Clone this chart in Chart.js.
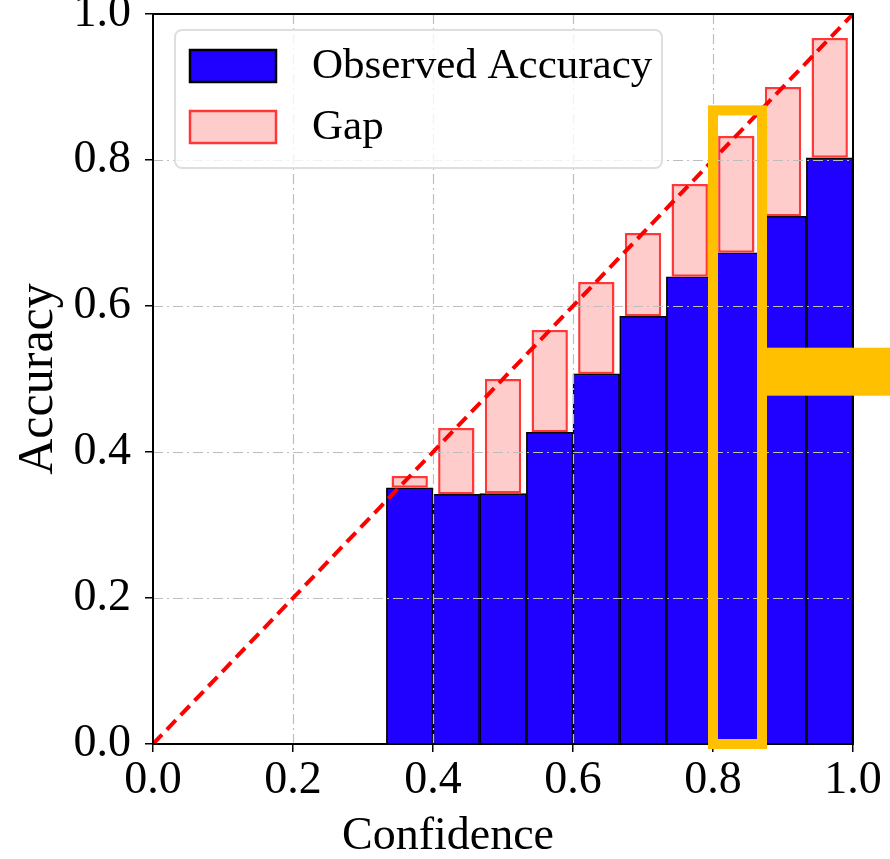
<!DOCTYPE html>
<html>
<head>
<meta charset="utf-8">
<script src="https://cdn.jsdelivr.net/npm/chart.js@4.4.1/dist/chart.umd.min.js"></script>
<style>
  html, body { margin: 0; padding: 0; background: #fff; overflow: hidden; }
  #wrap { position: relative; width: 890px; height: 859px; }
</style>
</head>
<body>
<div id="wrap"><canvas id="calib" width="890" height="859"></canvas></div>
<script>
// 15 equal-width confidence bins on [0, 1]
const binCenters = [0.0333, 0.1, 0.1667, 0.2333, 0.3, 0.3667, 0.4333, 0.5, 0.5667, 0.6333, 0.7, 0.7667, 0.8333, 0.9, 0.9667];
const accuracy   = [0, 0, 0, 0, 0, 0.351, 0.342, 0.343, 0.427, 0.507, 0.586, 0.640, 0.673, 0.723, 0.803];
const confidence = [0, 0, 0, 0, 0, 0.367, 0.433, 0.500, 0.567, 0.633, 0.700, 0.767, 0.833, 0.900, 0.967];
const diagonal   = [0, 1];
const tickValues = [0, 0.2, 0.4, 0.6, 0.8, 1.0];
const legendLabels = ['Observed Accuracy', 'Gap'];
const xTitle = 'Confidence';
// highlighted bin: x from, x to, top ; and where the connector leaves it
const highlightBox = [0.8, 0.87, 0.868];
const connectorY = 0.51;

const BLUE = 'rgb(32,0,255)';
const PINK = 'rgb(255,204,204)';
const RED_EDGE = 'rgb(255,55,55)';
const ORANGE = '#FFC000';
const GRID = '#bdbdbd';
const SERIF = '"Liberation Serif", "Times New Roman", serif';

Chart.defaults.font.family = SERIF;
Chart.defaults.color = '#000';

// grid goes over the bars but under the diagonal (like matplotlib)
const gridOverBars = {
    id: 'gridOverBars',
    afterDatasetDraw(chart, args) {
        if (args.index !== 1) return;
        const {ctx, chartArea: a, scales: {x, y}} = chart;
        ctx.save();
        ctx.strokeStyle = GRID;
        ctx.lineWidth = 1.2;
        ctx.setLineDash([10, 4, 2, 4]);
        ctx.beginPath();
        tickValues.slice(1, -1).forEach(v => {
            const px = Math.round(x.getPixelForValue(v)) + 0.5;
            const py = Math.round(y.getPixelForValue(v)) + 0.5;
            ctx.moveTo(px, a.top); ctx.lineTo(px, a.bottom);
            ctx.moveTo(a.left, py); ctx.lineTo(a.right, py);
        });
        ctx.stroke();
        ctx.restore();
    }
};

// axes box, legend inside the plot, x title, orange highlight
const frameAndLegend = {
    id: 'frameAndLegend',
    afterDraw(chart) {
        const {ctx, chartArea: a, scales: {x, y}} = chart;
        ctx.save();
        ctx.strokeStyle = '#000';
        ctx.lineWidth = 2;
        ctx.strokeRect(a.left, a.top, a.right - a.left, a.bottom - a.top);

        // x title sits a bit left of the axis centre in the original
        ctx.font = '46px ' + SERIF;
        ctx.fillStyle = '#000';
        ctx.textAlign = 'center';
        ctx.textBaseline = 'middle';
        ctx.fillText(xTitle, (a.left + a.right) / 2 - 55, chart.height - 22);

        // legend
        const lx = a.left + 22, ly = a.top + 16;
        ctx.beginPath();
        ctx.roundRect(lx, ly, 487, 138, 7);
        ctx.fillStyle = 'rgba(255,255,255,0.8)';
        ctx.fill();
        ctx.strokeStyle = '#dedede';
        ctx.lineWidth = 2;
        ctx.stroke();

        const swatches = [[BLUE, '#000'], [PINK, RED_EDGE]];
        ctx.font = '43px ' + SERIF;
        ctx.textAlign = 'left';
        legendLabels.forEach((label, i) => {
            const sy = ly + 20 + i * 61;
            ctx.fillStyle = swatches[i][0];
            ctx.fillRect(lx + 15, sy, 86, 32);
            ctx.strokeStyle = swatches[i][1];
            ctx.lineWidth = 2.5;
            ctx.strokeRect(lx + 15, sy, 86, 32);
            ctx.fillStyle = '#000';
            ctx.fillText(label, lx + 137, sy + 17);
        });

        // highlight around one bin + connector to the right edge
        const hx0 = x.getPixelForValue(highlightBox[0]);
        const hx1 = x.getPixelForValue(highlightBox[1]);
        const hyB = y.getPixelForValue(0);
        const hyT = y.getPixelForValue(highlightBox[2]);
        ctx.strokeStyle = ORANGE;
        ctx.lineWidth = 10;
        ctx.strokeRect(hx0, hyT, hx1 - hx0, hyB - hyT);
        const cy = y.getPixelForValue(connectorY);
        ctx.fillStyle = ORANGE;
        ctx.fillRect(hx1, cy - 24, chart.width - hx1, 48);
        ctx.restore();
    }
};

new Chart(document.getElementById('calib'), {
    type: 'bar',
    data: {
        datasets: [{
            type: 'line',
            label: 'Perfect calibration',
            data: diagonal.map(v => ({x: v, y: v})),
            borderColor: '#ff0000',
            borderWidth: 4,
            borderDash: [13, 7],
            pointRadius: 0,
            fill: false,
            order: 0
        }, {
            label: legendLabels[1],
            data: binCenters.map((c, i) => ({x: c, y: [accuracy[i], confidence[i]]})),
            backgroundColor: PINK,
            borderColor: RED_EDGE,
            borderWidth: 2.5,
            borderSkipped: false,
            barPercentage: 0.78,
            categoryPercentage: 1,
            grouped: false,
            order: 1
        }, {
            label: legendLabels[0],
            data: binCenters.map((c, i) => ({x: c, y: accuracy[i]})),
            backgroundColor: BLUE,
            borderColor: '#000',
            borderWidth: 1.6,
            barPercentage: 1,
            categoryPercentage: 1,
            grouped: false,
            order: 2
        }]
    },
    options: {
        responsive: false,
        animation: false,
        events: [],
        layout: { padding: { top: 14, right: 37, bottom: 0, left: 0 } },
        plugins: {
            legend: { display: false },
            tooltip: { enabled: false }
        },
        scales: {
            x: {
                type: 'linear',
                min: 0,
                max: 1,
                offset: false,
                afterFit: s => { s.height = 115; s.paddingLeft = 0; s.paddingRight = 0; },
                afterBuildTicks: s => { s.ticks = tickValues.map(v => ({value: v})); },
                ticks: {
                    maxRotation: 0,
                    autoSkip: false,
                    padding: 1,
                    font: { size: 46 },
                    callback: v => Number(v).toFixed(1)
                },
                grid: { offset: false, drawOnChartArea: false, tickLength: 8, color: '#000', lineWidth: 1.5 },
                border: { display: false }
            },
            y: {
                min: 0,
                max: 1,
                afterFit: s => { s.width = 153; s.paddingTop = 0; s.paddingBottom = 0; },
                afterBuildTicks: s => { s.ticks = tickValues.map(v => ({value: v})); },
                ticks: {
                    padding: 14,
                    font: { size: 46 },
                    callback: v => Number(v).toFixed(1)
                },
                grid: { drawOnChartArea: false, tickLength: 8, color: '#000', lineWidth: 1.5 },
                border: { display: false },
                title: {
                    display: true,
                    text: 'Accuracy',
                    font: { size: 50, lineHeight: 1 },
                    padding: { top: 14, bottom: 0 }
                }
            }
        }
    },
    plugins: [gridOverBars, frameAndLegend]
});
</script>
</body>
</html>
